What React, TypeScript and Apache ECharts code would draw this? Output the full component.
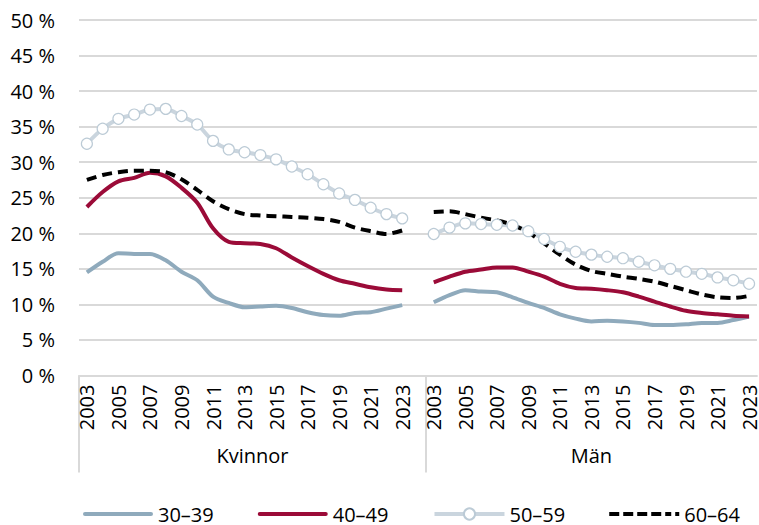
import React, { useEffect, useRef } from "react";
import * as echarts from "echarts";

const years = [
  "2003", "2004", "2005", "2006", "2007", "2008", "2009", "2010", "2011", "2012",
  "2013", "2014", "2015", "2016", "2017", "2018", "2019", "2020", "2021", "2022", "2023",
];
const groups = ["Kvinnor", "Män"];
const yTicks = [0, 5, 10, 15, 20, 25, 30, 35, 40, 45, 50];

// Kvinnor
const k3039 = [14.5, 16.0, 17.2, 17.1, 17.1, 16.2, 14.6, 13.4, 11.1, 10.2, 9.6, 9.7, 9.8, 9.5, 8.9, 8.5, 8.4, 8.8, 8.9, 9.4, 9.9];
const k4049 = [23.7, 25.8, 27.3, 27.8, 28.5, 28.0, 26.4, 24.3, 20.7, 18.8, 18.6, 18.5, 17.9, 16.6, 15.4, 14.3, 13.4, 12.9, 12.4, 12.1, 12.0];
const k5059 = [32.6, 34.7, 36.1, 36.7, 37.4, 37.5, 36.5, 35.3, 33.0, 31.8, 31.4, 31.0, 30.4, 29.4, 28.3, 26.9, 25.6, 24.7, 23.6, 22.7, 22.1];
const k6064 = [27.5, 28.2, 28.6, 28.8, 28.8, 28.6, 27.6, 26.1, 24.5, 23.4, 22.7, 22.5, 22.4, 22.3, 22.2, 22.0, 21.6, 20.8, 20.3, 19.9, 20.4];
// Män
const m3039 = [10.3, 11.3, 12.0, 11.8, 11.7, 11.0, 10.2, 9.5, 8.6, 8.0, 7.6, 7.7, 7.6, 7.4, 7.1, 7.1, 7.2, 7.4, 7.4, 7.8, 8.3];
const m4049 = [13.1, 13.9, 14.6, 14.9, 15.2, 15.2, 14.6, 13.9, 12.9, 12.3, 12.2, 12.0, 11.7, 11.1, 10.4, 9.7, 9.1, 8.8, 8.6, 8.4, 8.3];
const m5059 = [19.9, 20.8, 21.4, 21.3, 21.2, 21.1, 20.3, 19.2, 18.1, 17.4, 17.0, 16.7, 16.5, 16.0, 15.5, 15.0, 14.6, 14.3, 13.8, 13.4, 12.9];
const m6064 = [23.0, 23.1, 22.7, 22.2, 21.8, 21.2, 20.1, 18.6, 17.0, 15.6, 14.7, 14.3, 13.9, 13.6, 13.2, 12.6, 12.0, 11.4, 11.0, 10.9, 11.2];

const seriesNames = ["30–39", "40–49", "50–59", "60–64"];

const FONT = "'Open Sans', sans-serif";

const SOLID_ICON = "path://M2,0 H68 A2,2 0 0 1 68,4 H2 A2,2 0 0 1 2,0 Z";
const DASH_ICON =
  "path://M0,0 H10 V4 H0 Z M14,0 H24 V4 H14 Z M28,0 H38 V4 H28 Z M42,0 H52 V4 H42 Z M56,0 H62 V4 H56 Z M66,0 H70 V4 H66 Z";

export default function App() {
  const ref = useRef<HTMLDivElement>(null);

  useEffect(() => {
    if (!ref.current) return;
    const chart = echarts.init(ref.current, null, { renderer: "svg" });

    const categories = [...years, "", ...years];
    const join = (a: number[], b: number[]) => [...a, null, ...b];
    const nCat = categories.length;
    const groupStart = [0, years.length + 1];
    const groupCenter = [
      (years.length + 1) / 2,
      years.length + 1 + years.length / 2,
    ];

    const grid = "#d9d9d9";
    const c3039 = "#8faabc";
    const c4049 = "#9b0b38";
    const c5059 = "#cad5de";

    chart.setOption({
      animation: false,
      textStyle: { fontFamily: FONT },
      grid: { left: 79, top: 20, width: 684, bottom: 149.5, containLabel: false },
      xAxis: [
        {
          type: "category",
          data: categories,
          boundaryGap: true,
          position: "bottom",
          axisLine: { show: true, lineStyle: { color: grid, width: 2 } },
          axisTick: { show: false },
          axisLabel: {
            rotate: 90,
            interval: (i: number, v: string) => v !== "" && i % 2 === 0,
            fontSize: 20,
            fontFamily: FONT,
            color: "#000",
            margin: 9,
          },
          splitLine: { show: false },
        },
        {
          type: "value",
          min: 0,
          max: nCat,
          position: "bottom",
          axisLine: { show: false },
          splitLine: { show: false },
          axisTick: {
            show: true,
            customValues: groupStart,
            length: 97,
            lineStyle: { color: grid, width: 2 },
          },
          axisLabel: {
            customValues: groupCenter,
            formatter: (v: number) => {
              const idx = groupCenter.indexOf(v);
              return idx >= 0 ? groups[idx] : "";
            },
            fontSize: 20,
            fontFamily: FONT,
            color: "#000",
            margin: 70,
          },
        },
      ],
      yAxis: {
        type: "value",
        min: yTicks[0],
        max: yTicks[yTicks.length - 1],
        interval: 5,
        axisLine: { show: false },
        axisTick: { show: false },
        splitLine: { lineStyle: { color: grid, width: 2 } },
        axisLabel: {
          formatter: (v: number) => `${v} %`,
          fontSize: 20,
          fontFamily: FONT,
          color: "#000",
          margin: 24,
        },
      },
      legend: {
        top: 504,
        left: 83,
        padding: 0,
        itemWidth: 70,
        itemHeight: 14,
        itemGap: 44,
        textStyle: { fontSize: 20, fontFamily: FONT, color: "#000" },
        data: [
          { name: seriesNames[0], icon: SOLID_ICON, itemStyle: { color: c3039 } },
          { name: seriesNames[1], icon: SOLID_ICON, itemStyle: { color: c4049 } },
          { name: seriesNames[2], lineStyle: { width: 4, color: c5059 } },
          { name: seriesNames[3], icon: DASH_ICON, itemStyle: { color: "#000" } },
        ],
      },
      series: [
        {
          name: seriesNames[0],
          type: "line",
          data: join(k3039, m3039),
          smooth: 0.3,
          symbol: "none",
          lineStyle: { color: c3039, width: 4 },
          itemStyle: { color: c3039 },
        },
        {
          name: seriesNames[1],
          type: "line",
          data: join(k4049, m4049),
          smooth: 0.3,
          symbol: "none",
          lineStyle: { color: c4049, width: 4 },
          itemStyle: { color: c4049 },
        },
        {
          name: seriesNames[2],
          type: "line",
          data: join(k5059, m5059),
          smooth: 0.3,
          symbol: "circle",
          symbolSize: 11,
          showSymbol: true,
          showAllSymbol: true,
          lineStyle: { color: c5059, width: 4 },
          itemStyle: { color: "#ffffff", borderColor: "#bccbd6", borderWidth: 1.2 },
        },
        {
          name: seriesNames[3],
          type: "line",
          data: join(k6064, m6064),
          smooth: 0.3,
          symbol: "none",
          lineStyle: { color: "#000000", width: 4, type: [10, 6] },
          itemStyle: { color: "#000000" },
        },
      ],
    });

    return () => chart.dispose();
  }, []);

  return (
    <div
      ref={ref}
      style={{ position: "fixed", left: 0, top: 0, width: 759, height: 525, background: "#fff" }}
    />
  );
}
